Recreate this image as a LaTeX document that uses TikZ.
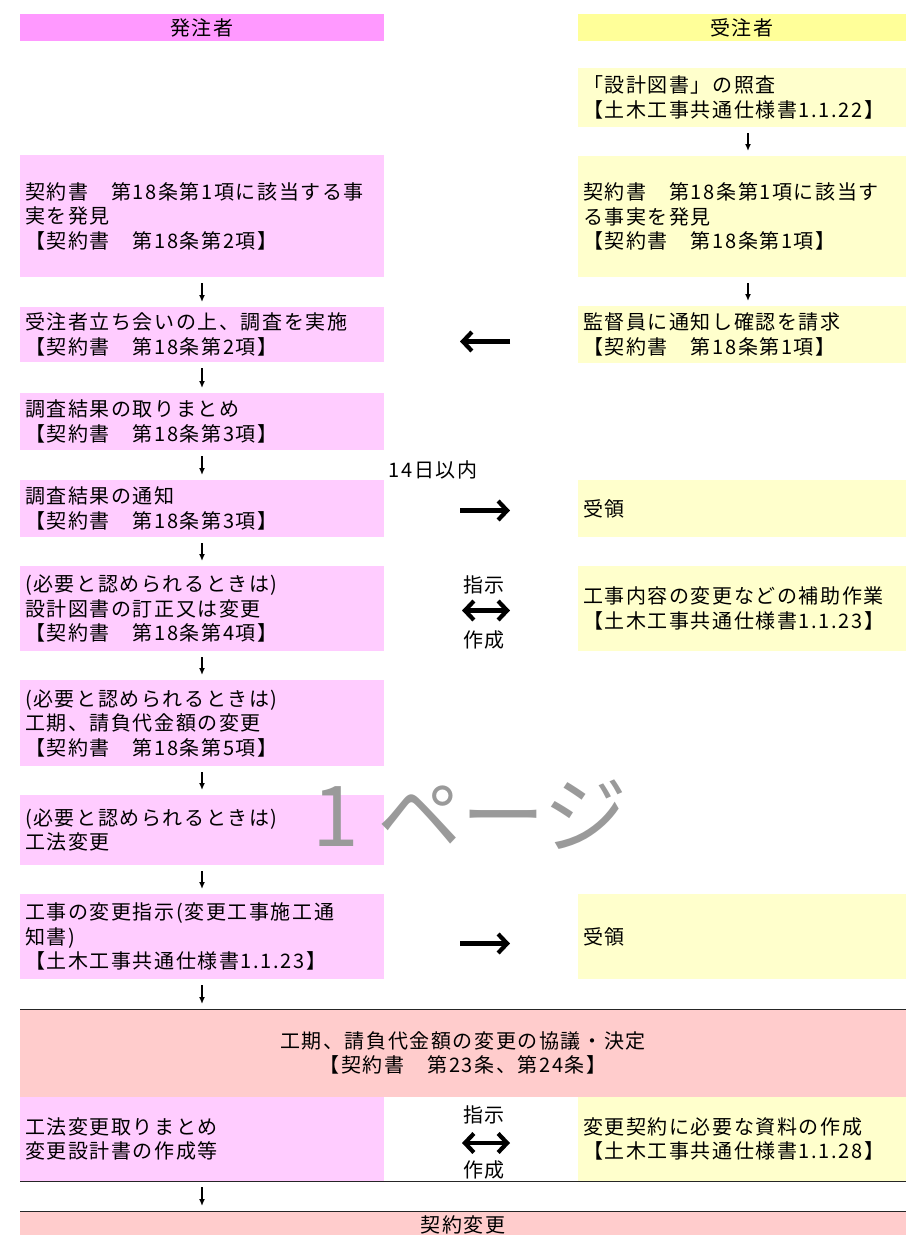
\documentclass[tikz,border=0pt]{standalone}
\usepackage{fontspec}
\setmainfont{Noto Sans CJK JP}[LetterSpace=8]
\newfontfamily\wmfont{Noto Sans CJK JP}
\usetikzlibrary{arrows.meta}
\definecolor{hdrL}{HTML}{FF99FF}
\definecolor{hdrR}{HTML}{FFFF99}
\definecolor{boxL}{HTML}{FFCCFF}
\definecolor{boxR}{HTML}{FFFFCC}
\definecolor{boxC}{HTML}{FFCCCC}
\definecolor{wmgray}{HTML}{9A9A9A}
\begin{document}
\begin{tikzpicture}[x=1pt,y=-1pt,
  every node/.style={font=\fontsize{20}{24.5}\selectfont, inner sep=0pt, outer sep=0pt},
  hdrbox/.style={anchor=north west, minimum height=27pt},
  lbox/.style={fill=boxL, anchor=north west, text width=354pt, inner xsep=5pt, align=left},
  rbox/.style={fill=boxR, anchor=north west, text width=318pt, inner xsep=5pt, align=left},
  cbox/.style={fill=boxC, anchor=north west, minimum width=886pt, align=center},
  varr/.style={-{Latex[length=7pt,width=6pt]}, line width=1.5pt, shorten <=6pt, shorten >=5pt},
  harr/.style={-{Straight Barb[length=9pt,width=19pt,line width=4.2pt]}, line width=4.2pt},
  darr/.style={{Straight Barb[length=9pt,width=19pt,line width=4.2pt]}-{Straight Barb[length=9pt,width=19pt,line width=4.2pt]}, line width=4.2pt},
  sepline/.style={line width=1pt, black!85}
]
\useasboundingbox (0,0) rectangle (906,1235);
\clip (0,0) rectangle (906,1235);

% headers
\node[hdrbox, fill=hdrL, minimum width=364pt] (hL) at (20,14) {発注者};
\node[hdrbox, fill=hdrR, minimum width=328pt] (hR) at (578,14) {受注者};

% right column
\node[rbox, minimum height=59pt] (r1) at (578,68) {「設計図書」の照査\\【土木工事共通仕様書1.1.22】};
\node[rbox, minimum height=121pt] (r2) at (578,156) {契約書　第18条第1項に該当す\\る事実を発見\\【契約書　第18条第1項】};
\node[rbox, minimum height=57pt] (r3) at (578,306) {監督員に通知し確認を請求\\【契約書　第18条第1項】};
\node[rbox, minimum height=57pt] (r4) at (578,480) {受領};
\node[rbox, minimum height=85pt] (r5) at (578,566) {工事内容の変更などの補助作業\\【土木工事共通仕様書1.1.23】};
\node[rbox, minimum height=85pt] (r6) at (578,894) {受領};

% left column
\node[lbox, minimum height=122pt] (b1) at (20,155) {契約書　第18条第1項に該当する事\\実を発見\\【契約書　第18条第2項】};
\node[lbox, minimum height=55pt] (b2) at (20,307) {受注者立ち会いの上、調査を実施\\【契約書　第18条第2項】};
\node[lbox, minimum height=57pt] (b3) at (20,393) {調査結果の取りまとめ\\【契約書　第18条第3項】};
\node[lbox, minimum height=57pt] (b4) at (20,480) {調査結果の通知\\【契約書　第18条第3項】};
\node[lbox, minimum height=85pt] (b5) at (20,566) {(必要と認められるときは)\\設計図書の訂正又は変更\\【契約書　第18条第4項】};
\node[lbox, minimum height=86pt] (b6) at (20,680) {(必要と認められるときは)\\工期、請負代金額の変更\\【契約書　第18条第5項】};
\node[lbox, minimum height=70pt] (b7) at (20,795) {(必要と認められるときは)\\工法変更};
\node[lbox, minimum height=85pt] (b8) at (20,894) {工事の変更指示(変更工事施工通\\知書)\\【土木工事共通仕様書1.1.23】};

% bottom part
\node[cbox, minimum height=88pt] (c1) at (20,1009) {工期、請負代金額の変更の協議・決定\\【契約書　第23条、第24条】};
\node[lbox, minimum height=84pt] (b9) at (20,1097) {工法変更取りまとめ\\変更設計書の作成等};
\node[rbox, minimum height=84pt] (r7) at (578,1097) {変更契約に必要な資料の作成\\【土木工事共通仕様書1.1.28】};
\node[cbox, minimum height=28pt] (c2) at (20,1211) {契約変更};

\draw[sepline] (c1.north west) -- (c1.north east);
\draw[sepline] (b9.south west) -- (r7.south east);
\draw[sepline] (c2.north west) -- (c2.north east);

% vertical arrows
\draw[varr] (b1) -- (b2);
\draw[varr] (b2) -- (b3);
\draw[varr] (b3) -- (b4);
\draw[varr] (b4) -- (b5);
\draw[varr] (b5) -- (b6);
\draw[varr] (b6) -- (b7);
\draw[varr] (b7) -- (b8);
\draw[varr] (b8.south) -- (b8.south |- c1.north);
\draw[varr] (b9.south) -- (b9.south |- c2.north);
\draw[varr] ([xshift=6pt]r1.south) -- ([xshift=6pt]r2.north);
\draw[varr] ([xshift=6pt]r2.south) -- ([xshift=6pt]r3.north);

% horizontal arrows
\draw[harr, shorten <=68pt, shorten >=76pt] ([yshift=-7pt]r3.west) -- ([yshift=-7pt]r3.west -| b2.east);
\draw[harr, shorten <=76pt, shorten >=68pt] ([yshift=-2pt]b4.east) -- ([yshift=-2pt]b4.east -| r4.west);
\draw[darr, shorten <=78pt, shorten >=68pt] ([yshift=-2pt]b5.east) -- ([yshift=-2pt]b5.east -| r5.west);
\draw[harr, shorten <=76pt, shorten >=68pt] ([yshift=-7pt]b8.east) -- ([yshift=-7pt]b8.east -| r6.west);
\draw[darr, shorten <=78pt, shorten >=68pt] ([yshift=-4pt]b9.east) -- ([yshift=-4pt]b9.east -| r7.west);

% labels
\node (l14) at (433,470) {14日以内};
\node (s1) at (484,585) {指示};
\node (m1) at (484,640) {作成};
\node (s2) at (484,1115) {指示};
\node (m2) at (484,1170) {作成};

% watermark
\node[font=\wmfont\fontsize{84}{84}\selectfont, text=wmgray] (wm) at (470,815) {1 ページ};
\end{tikzpicture}
\end{document}
